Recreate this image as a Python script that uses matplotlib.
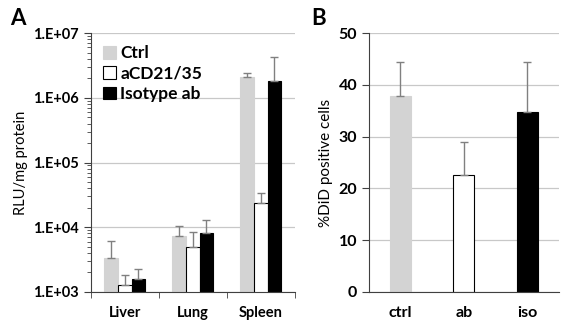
import matplotlib.pyplot as plt
import numpy as np
from matplotlib.ticker import LogLocator, NullFormatter, FixedLocator

plt.rcParams['font.family'] = ['Lato', 'DejaVu Sans']

# panel A data
organs = ['Liver', 'Lung', 'Spleen']
series = ['Ctrl', 'aCD21/35', 'Isotype ab']
ctrl = [3.4e3, 7.3e3, 2.08e6]
ctrl_top = [6.2e3, 1.05e4, 2.4e6]
acd = [1.3e3, 5.0e3, 2.4e4]
acd_top = [1.85e3, 8.5e3, 3.4e4]
iso = [1.57e3, 8.2e3, 1.83e6]
iso_top = [2.25e3, 1.3e4, 4.25e6]
ytick_labels_a = ['1.E+03', '1.E+04', '1.E+05', '1.E+06', '1.E+07']

# panel B data
groups = ['ctrl', 'ab', 'iso']
pct = [37.8, 22.5, 34.8]
pct_top = [44.4, 29.0, 44.4]

colors = ['#d3d3d3', 'white', 'black']
errc = '#808080'

fig = plt.figure(figsize=(5.79, 3.28), dpi=100)
axA = fig.add_axes([0.157, 0.11, 0.352, 0.789])
axB = fig.add_axes([0.637, 0.11, 0.328, 0.789])

# ---- panel A
x = np.arange(len(organs))
w = 0.2
vals = [ctrl, acd, iso]
tops = [ctrl_top, acd_top, iso_top]
for i in range(3):
    v = np.array(vals[i])
    t = np.array(tops[i])
    xi = x + (i - 1) * w
    axA.bar(xi, v, w, bottom=0, color=colors[i], edgecolor='black' if i == 1 else colors[i],
            linewidth=0.8, label=series[i], zorder=2)
    axA.errorbar(xi, v, yerr=[np.zeros_like(v), t - v], fmt='none', ecolor=errc,
                 elinewidth=1, capsize=3, capthick=1, zorder=3)
axA.set_yscale('log')
axA.set_ylim(1e3, 1e7)
axA.set_xlim(-0.5, 2.5)
axA.yaxis.set_major_locator(FixedLocator([1e3, 1e4, 1e5, 1e6, 1e7]))
axA.set_yticklabels(ytick_labels_a)
axA.yaxis.set_minor_locator(LogLocator(base=10, subs=np.arange(2, 10)))
axA.yaxis.set_minor_formatter(NullFormatter())
axA.set_xticks(x)
axA.set_xticklabels(organs)
axA.set_xticks([-0.5, 0.5, 1.5, 2.5], minor=True)
axA.tick_params(axis='x', which='major', length=0, pad=10)
axA.tick_params(axis='x', which='minor', length=4, color='#404040')
axA.tick_params(axis='y', which='major', length=5, color='#404040')
axA.tick_params(axis='y', which='minor', length=3, color='#404040')
axA.grid(axis='y', which='major', color='#c8c8c8', linewidth=0.9, zorder=0)
axA.set_axisbelow(True)
axA.set_ylabel('RLU/mg protein', fontsize=10.5)
leg = axA.legend(loc='upper left', frameon=False, handlelength=0.75, handleheight=0.75,
                 handletextpad=0.25, labelspacing=0.25, borderaxespad=0.3,
                 prop={'weight': 'bold', 'size': 12.5}, bbox_to_anchor=(0.0, 1.0))
for lbl in axA.get_xticklabels() + axA.get_yticklabels():
    lbl.set_fontweight('bold')
    lbl.set_fontsize(10.5)

# ---- panel B
xb = np.arange(len(groups))
pv = np.array(pct)
pt = np.array(pct_top)
axB.bar(xb, pv, 0.33, color=colors, edgecolor=['#d3d3d3', 'black', 'black'],
        linewidth=0.8, zorder=2)
axB.errorbar(xb, pv, yerr=[np.zeros_like(pv), pt - pv], fmt='none', ecolor=errc,
             elinewidth=1, capsize=3, capthick=1, zorder=3)
axB.set_ylim(0, 50)
axB.set_xlim(-0.5, 2.5)
axB.set_yticks([0, 10, 20, 30, 40, 50])
axB.set_xticks(xb)
axB.set_xticklabels(groups)
axB.tick_params(axis='x', length=0, pad=10)
axB.tick_params(axis='y', length=5, color='#404040')
axB.grid(axis='y', color='#c8c8c8', linewidth=0.9, zorder=0)
axB.set_axisbelow(True)
axB.set_ylabel('%DiD positive cells', fontsize=11)
for lbl in axB.get_xticklabels() + axB.get_yticklabels():
    lbl.set_fontweight('bold')
    lbl.set_fontsize(11.5)

for ax in (axA, axB):
    for s in ('top', 'right'):
        ax.spines[s].set_visible(False)
    ax.spines['left'].set_color('#404040')
    ax.spines['bottom'].set_color('#404040')

fig.text(0.018, 0.925, 'A', fontsize=16, fontweight='bold')
fig.text(0.537, 0.925, 'B', fontsize=16, fontweight='bold')

fig.savefig('out.png', dpi=100)
